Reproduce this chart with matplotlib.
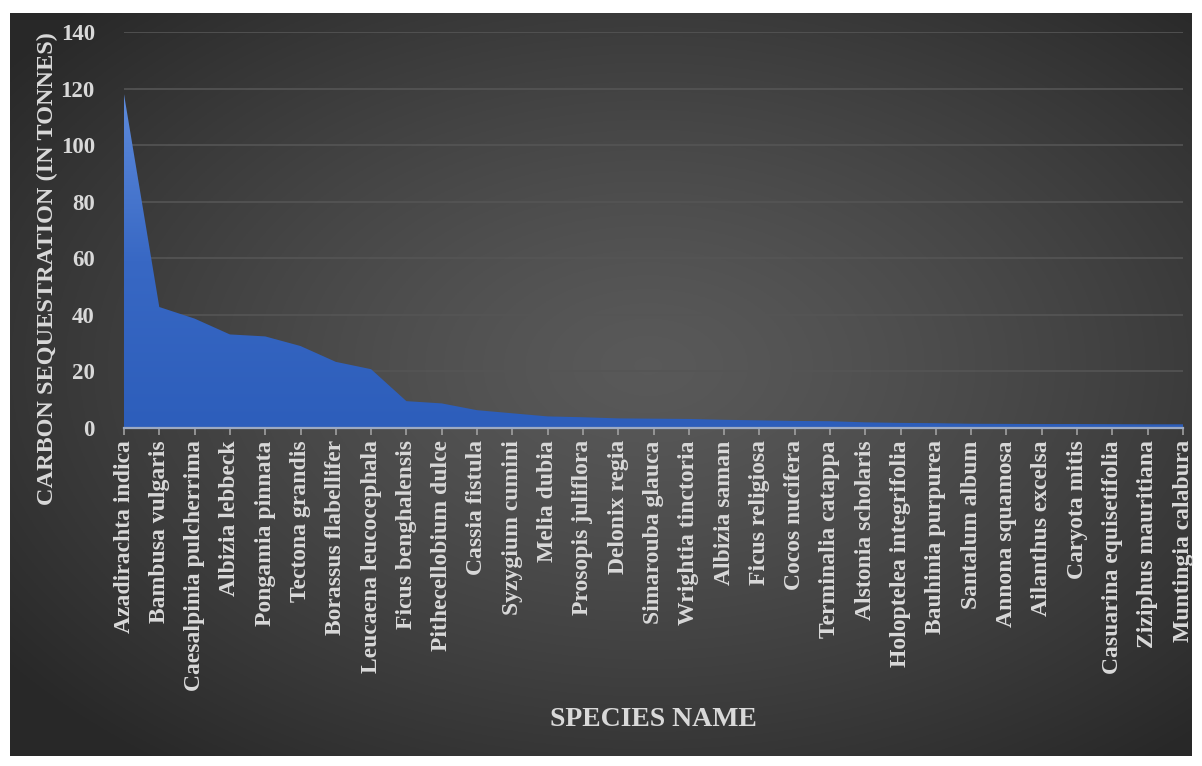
import matplotlib
import numpy as np

matplotlib.use("Agg")
import matplotlib.pyplot as plt
from matplotlib.colors import LinearSegmentedColormap

species = [
    "Azadirachta indica", "Bambusa vulgaris", "Caesalpinia pulcherrima",
    "Albizia lebbeck", "Pongamia pinnata", "Tectona grandis",
    "Borassus flabellifer", "Leucaena leucocephala", "Ficus benghalensis",
    "Pithecellobium dulce", "Cassia fistula", "Syzygium cumini",
    "Melia dubia", "Prosopis juliflora", "Delonix regia",
    "Simarouba glauca", "Wrightia tinctoria", "Albizia saman",
    "Ficus religiosa", "Cocos nucifera", "Terminalia catappa",
    "Alstonia scholaris", "Holoptelea integrifolia", "Bauhinia purpurea",
    "Santalum album", "Annona squamosa", "Ailanthus excelsa",
    "Caryota mitis", "Casuarina equisetifolia", "Ziziphus mauritiana",
    "Muntingia calabura",
]
carbon_t = [
    118.0, 42.7, 38.6, 33.0, 32.3, 28.9, 23.3, 20.7, 9.4, 8.6,
    6.2, 5.1, 4.0, 3.7, 3.3, 3.2, 3.1, 2.8, 2.6, 2.4,
    2.3, 1.9, 1.7, 1.6, 1.4, 1.35, 1.3, 1.3, 1.25, 1.2,
    1.2,
]
y_ticks = [0, 20, 40, 60, 80, 100, 120, 140]

W, H = 1202, 766
TXT = "#D9D9D9"
SERIF = "Liberation Serif"

fig = plt.figure(figsize=(W / 100, H / 100), dpi=100, facecolor="white")

# dark radial backdrop of the chart panel
bg = fig.add_axes([10 / W, 1 - 756 / H, 1182 / W, 743 / H], zorder=0)
gx, gy = np.meshgrid(np.linspace(-1, 1, 600), np.linspace(-1, 1, 400))
r = np.sqrt((gx - 0.08) ** 2 + (gy + 0.05) ** 2)
r = np.clip(r / 1.35, 0, 1)
shade = 0.35 - 0.19 * r ** 1.3
bg.imshow(np.dstack([shade] * 3), aspect="auto", extent=(0, 1, 0, 1))
bg.axis("off")

ax = fig.add_axes([124 / W, 1 - 427.7 / H, (1183 - 124) / W, (427.7 - 32) / H], zorder=1)
ax.patch.set_alpha(0)

x = np.arange(len(species))
poly = ax.fill_between(x, 0, carbon_t, color="none", lw=0, zorder=2)
area_cmap = LinearSegmentedColormap.from_list("area", ["#2D5EBB", "#3868C4", "#5E8BDC"])
grad = np.linspace(0, 1, 256).reshape(-1, 1)
img = ax.imshow(grad, cmap=area_cmap, origin="lower", aspect="auto",
                extent=(0, len(species) - 1, 0, max(carbon_t)), zorder=2)
img.set_clip_path(poly.get_paths()[0], transform=ax.transData)

ax.set_xlim(0, len(species) - 1)
ax.set_ylim(0, 140)
ax.set_yticks(y_ticks)
ax.yaxis.grid(True, color="#555555", lw=1.2, zorder=1)
ax.set_axisbelow(True)

for side in ["top", "right", "left"]:
    ax.spines[side].set_visible(False)
ax.spines["bottom"].set_color("#9DAAC2")
ax.spines["bottom"].set_linewidth(1.6)
ax.spines["bottom"].set_zorder(3)

ax.set_xticks(x)
ax.set_xticklabels(species, rotation=90, fontsize=17, fontweight="bold",
                   family=SERIF, color=TXT)
ax.tick_params(axis="x", length=5, width=1.2, color="#A0A0A0", pad=4)
ax.tick_params(axis="y", length=0, pad=21)
for lab in ax.get_yticklabels():
    lab.set_fontsize(16.5)
    lab.set_fontweight("bold")
    lab.set_family(SERIF)
    lab.set_color(TXT)

fig.text(653 / W, 1 - 720 / H, "SPECIES NAME", ha="center", va="center",
         fontsize=20, fontweight="bold", family=SERIF, color=TXT)
fig.text(47 / W, 1 - 32 / H, "CARBON SEQUESTRATION (IN TONNES)", rotation=90,
         ha="center", va="top", fontsize=17.5, fontweight="bold",
         family=SERIF, color=TXT)

fig.savefig("out.png", dpi=100, facecolor="white")
